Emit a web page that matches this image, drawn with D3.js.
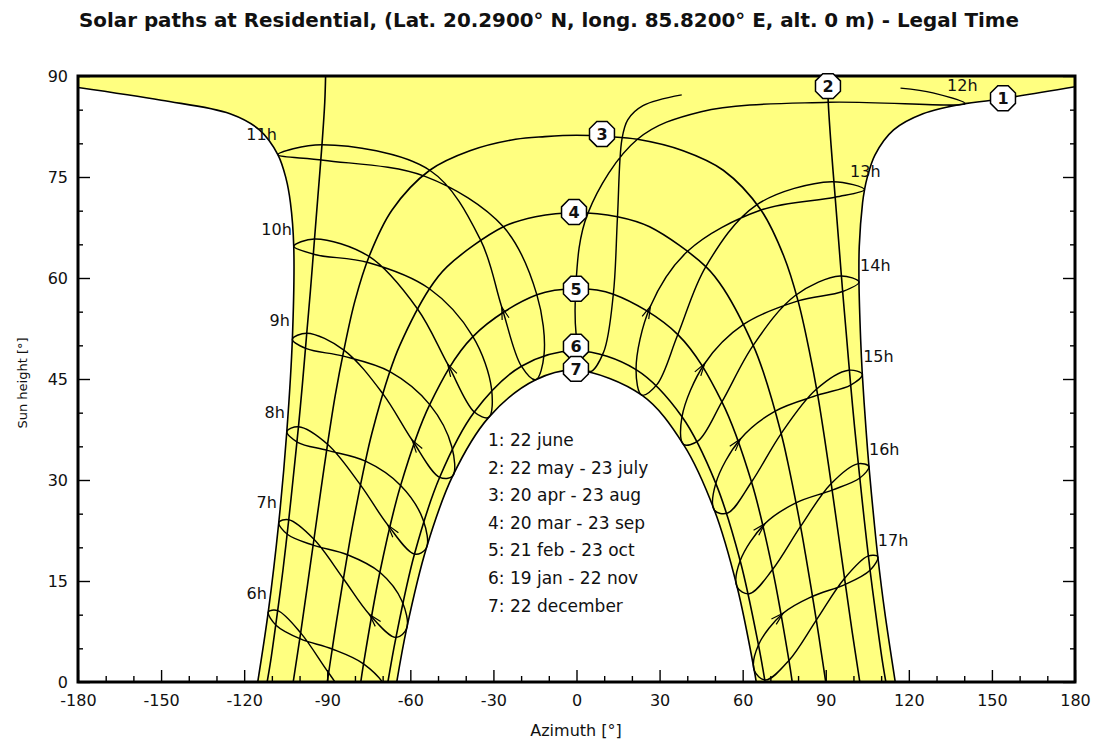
<!DOCTYPE html>
<html>
<head>
<meta charset="utf-8">
<script src="https://cdn.jsdelivr.net/npm/d3@7/dist/d3.min.js"></script>
<style>
body{margin:0;background:#fff;}
text{font-family:"DejaVu Sans",sans-serif;fill:#111;}
</style>
</head>
<body>
<svg width="1099" height="742"></svg>
<script>
//chart values: [azimuth, sun height]
const titleText = "Solar paths at Residential, (Lat. 20.2900° N, long. 85.8200° E, alt. 0 m) - Legal Time";
const legendLines = ["1: 22 june","2: 22 may - 23 july","3: 20 apr - 23 aug","4: 20 mar - 23 sep","5: 21 feb - 23 oct","6: 19 jan - 22 nov","7: 22 december"];
const azTicks = [-180,-150,-120,-90,-60,-30,0,30,60,90,120,150,180];
const heightTicks = [0,15,30,45,60,75,90];

//date paths (1 = june ... 7 = december)
const path1Morning = [[-115.1,0],[-111.3,10.4],[-107.5,23.7],[-104.6,37.2],[-102.6,50.9],[-102.1,64.7],[-103.3,71.2],[-104.9,74.8],[-107.8,78.3],[-114.5,82.0],[-125.1,84.4],[-149.9,86.4],[-180,88.3]];
const path1Afternoon = [[180,88.4],[149.9,86.4],[140.3,85.9],[125.1,84.4],[114.5,82.0],[107.8,78.3],[104.9,74.8],[104.0,73.1],[103.3,71.2],[102.1,64.7],[102.0,59.4],[102.6,50.9],[103.2,45.7],[104.6,37.2],[105.6,32.0],[107.5,23.7],[108.8,18.6],[111.3,10.4],[115.1,0]];
const path2Morning = [[-111.7,0],[-110.4,3.2],[-107.9,10.6],[-106.0,16.6],[-103.9,24.1],[-102.3,30.3],[-100.4,37.9],[-99.0,44.1],[-97.4,51.8],[-96.1,58.0],[-94.6,65.8],[-93.4,72.0],[-91.9,79.8],[-90.9,86.1],[-90.6,90]];
const path2Afternoon = [[90.6,90],[90.9,86.1],[91.9,79.8],[93.4,72.0],[94.6,65.8],[96.1,58.0],[97.4,51.8],[99.0,44.1],[100.4,37.9],[102.3,30.3],[103.9,24.1],[106.0,16.6],[107.9,10.6],[110.4,3.2],[111.7,0]];
const path3 = [[-102.3,0],[-99.6,7.3],[-97.1,14.5],[-94.8,21.2],[-92.3,28.5],[-89.9,35.3],[-87.1,42.6],[-84.0,49.3],[-80.0,56.6],[-74.9,63.2],[-66.6,70.1],[-53.0,76.0],[-38.5,78.9],[-22.0,80.6],[-11.4,81.0],[0,81.2],[11.4,81.0],[22.0,80.6],[38.5,78.9],[53.0,76.0],[66.6,70.1],[74.9,63.2],[80.0,56.6],[84.0,49.3],[87.1,42.6],[89.9,35.3],[92.3,28.5],[94.8,21.2],[97.1,14.5],[99.6,7.3],[102.3,0]];
const path4 = [[-90,0],[-88.2,4.9],[-86.6,9.2],[-82.7,18.9],[-80.9,23.1],[-76.2,32.8],[-73.9,36.9],[-67.4,46.1],[-63.8,50.0],[-53.1,58.4],[-46.7,61.7],[-26.4,67.6],[-14.8,69.1],[0,69.7],[14.8,69.1],[26.4,67.6],[46.7,61.7],[53.1,58.4],[63.8,50.0],[67.4,46.1],[73.9,36.9],[76.2,32.8],[80.9,23.1],[82.7,18.9],[86.6,9.2],[88.2,4.9],[90,0]];
const path5 = [[-77.9,0],[-76.9,2.7],[-71.0,16.3],[-63.5,29.2],[-53.0,41.2],[-37.4,51.3],[-14.3,57.5],[0,58.4],[13.3,57.6],[36.6,51.6],[52.5,41.6],[63.2,29.7],[70.8,16.7],[76.7,3.2],[77.9,0]];
const path6 = [[-68.1,0],[-65.2,6.6],[-58.5,19.0],[-49.4,30.4],[-36.9,40.1],[-19.9,46.9],[0,49.2],[21.5,46.4],[38.1,39.4],[50.3,29.5],[59.1,18.0],[65.7,5.5],[68.1,0]];
const path7 = [[-64.9,0],[-61.3,8.0],[-54.2,19.9],[-44.7,30.6],[-31.7,39.3],[-14.7,44.9],[0,46.3],[23.6,42.6],[38.6,35.3],[49.8,25.5],[58.0,14.1],[64.2,1.7],[64.9,0]];

//hour lines, one point per date: 19 jan, 21 feb, 20 mar, 20 apr, 22 may, 22 jun, 23 jul, 23 aug, 23 sep, 23 oct, 22 nov, 22 dec
const hour6 = [[-70.5,-6.4],[-80.1,-3.8],[-89.4,1.3],[-99.6,7.3],[-107.9,10.6],[-111.3,10.4],[-108.4,8.4],[-99.7,6.4],[-88.2,4.9],[-76.9,2.7],[-68.7,-0.9],[-66.7,-4.7]];
const hour7 = [[-65.2,6.6],[-74.7,10.0],[-84.1,15.3],[-94.8,21.2],[-103.9,24.1],[-107.5,23.7],[-104.3,21.9],[-94.9,20.3],[-82.7,18.9],[-71.0,16.3],[-63.0,12.0],[-61.3,8.0]];
const hour8 = [[-58.5,19.0],[-68.1,23.3],[-77.9,29.2],[-89.9,35.3],[-100.4,37.9],[-104.6,37.2],[-100.7,35.6],[-90.0,34.4],[-76.2,32.8],[-63.5,29.2],[-55.4,24.1],[-54.2,19.9]];
const hour9 = [[-49.4,30.4],[-59.3,35.9],[-69.9,42.8],[-84.0,49.3],[-97.4,51.8],[-102.6,50.9],[-97.5,49.5],[-84.2,48.4],[-67.4,46.1],[-53.0,41.2],[-45.0,34.9],[-44.7,30.6]];
const hour10 = [[-36.9,40.1],[-46.5,47.2],[-57.4,55.4],[-74.9,63.2],[-94.6,65.8],[-102.1,64.7],[-94.6,63.5],[-75.3,62.3],[-53.1,58.4],[-37.4,51.3],[-30.7,43.6],[-31.7,39.3]];
const hour11 = [[-19.9,46.9],[-27.0,55.7],[-34.7,65.7],[-53.0,76.0],[-91.9,79.8],[-107.8,78.3],[-91.4,77.5],[-54.7,75.1],[-26.4,67.6],[-14.3,57.5],[-11.7,48.7],[-14.7,44.9]];
//12h line is broken near the zenith: august end first, then round the year to june
const hour12 = [[38,87.2],[24,85.6],[18.5,83.5],[16.4,80.6],[14.8,69.1],[13.3,57.6],[9.8,49.0],[4.9,46.1],[0.9,49.2],[-0.2,59.1],[4.1,69.6],[22.0,80.6],[45,84.7],[90.9,86.1],[140.3,85.9],[128.7,87.5],[117,88.2]];
const hour13 = [[21.5,46.4],[26.7,55.8],[40.2,64.0],[66.6,70.1],[93.4,72.0],[104.0,73.1],[92.2,74.3],[64.8,70.8],[46.7,61.7],[36.6,51.6],[29.1,44.2],[23.6,42.6]];
const hour14 = [[38.1,39.4],[46.3,47.3],[60.3,53.1],[80.0,56.6],[96.1,58.0],[102.0,59.4],[95.2,60.3],[79.0,57.4],[63.8,50.0],[52.5,41.6],[43.9,35.8],[38.6,35.3]];
const hour15 = [[50.3,29.5],[59.2,36.1],[71.6,40.2],[87.1,42.6],[99.0,44.1],[103.2,45.7],[98.2,46.3],[86.4,43.4],[73.9,36.9],[63.2,29.7],[54.6,25.1],[49.8,25.5]];
const hour16 = [[59.1,18.0],[68.0,23.5],[79.2,26.6],[92.3,28.5],[102.3,30.3],[105.6,32.0],[101.5,32.4],[91.8,29.4],[80.9,23.1],[70.8,16.7],[62.4,13.1],[58.0,14.1]];
const hour17 = [[65.7,5.5],[74.6,10.2],[85.1,12.7],[97.1,14.5],[106.0,16.6],[108.8,18.6],[105.2,18.7],[96.6,15.3],[86.6,9.2],[76.7,3.2],[68.3,0.3],[64.2,1.7]];

//hour labels: text and anchor point
const hourNames = ["6h","7h","8h","9h","10h","11h","12h","13h","14h","15h","16h","17h"];
const hourLabelPos = [[-111.8,12.3],[-108.2,25.8],[-105.3,39.2],[-103.5,52.9],[-102.8,66.4],[-108.2,80.5],[133.8,87.8],[98.8,75.0],[102.4,61.0],[103.5,47.5],[105.6,33.7],[108.8,20.2]];

//numbered date markers
const markerNames = ["1","2","3","4","5","6","7"];
const markerPos = [[154,86.7],[90.8,88.5],[9.2,81.4],[-0.9,69.8],[-0.2,58.4],[-0.2,49.8],[-0.2,46.5]];

(()=>{

let svg = d3.select("svg");

//plot frame
let left = 78, right = 1075, top = 76, bottom = 682;
let x = d3.scaleLinear().domain([-180,180]).range([left,right]);
let y = d3.scaleLinear().domain([0,90]).range([bottom,top]);

let line = d3.line().x(d => x(d[0])).y(d => y(d[1])).curve(d3.curveCatmullRom);
let loop = d3.line().x(d => x(d[0])).y(d => y(d[1])).curve(d3.curveCatmullRomClosed);
let cont = s => "L" + s.slice(1); //continue a path instead of moving

svg.append("defs").append("clipPath").attr("id","plotClip")
	.append("rect").attr("x",left).attr("y",top).attr("width",right-left).attr("height",bottom-top);

let plot = svg.append("g").attr("clip-path","url(#plotClip)");

//yellow zone between june and december paths
let zone = line(path1Morning)
	+ "L" + x(-180) + "," + y(90) + "L" + x(180) + "," + y(90)
	+ cont(line(path1Afternoon))
	+ cont(line(path7.slice().reverse())) + "Z";
plot.append("path").attr("d",zone).attr("fill","#ffff80").attr("stroke","none");

//date paths
let datePaths = [path1Morning,path1Afternoon,path2Morning,path2Afternoon,path3,path4,path5,path6,path7];
plot.selectAll(".datepath")
	.data(datePaths)
	.enter().append("path")
	.attr("class","datepath")
	.attr("d", d => line(d))
	.attr("fill","none")
	.attr("stroke","#000")
	.attr("stroke-width",1.6);

//hour lines
let hourLoops = [hour6,hour7,hour8,hour9,hour10,hour11,hour13,hour14,hour15,hour16,hour17];
plot.selectAll(".hourline")
	.data(hourLoops)
	.enter().append("path")
	.attr("class","hourline")
	.attr("d", d => loop(d))
	.attr("fill","none")
	.attr("stroke","#000")
	.attr("stroke-width",1.45);
plot.append("path").attr("d",line(hour12))
	.attr("fill","none").attr("stroke","#000").attr("stroke-width",1.45);

//direction arrows on the hour lines, at the february point, heading to march
let arrowLoops = [hour7,hour8,hour9,hour10,hour11,hour13,hour14,hour15,hour16,hour17];
plot.selectAll(".arrow")
	.data(arrowLoops)
	.enter().append("path")
	.attr("class","arrow")
	.attr("d", d => {
		let px = x(d[1][0]), py = y(d[1][1]);
		let a = Math.atan2(y(d[2][1]) - y(d[0][1]), x(d[2][0]) - x(d[0][0]));
		let len = 13, spread = 0.28;
		let p1 = [px - len*Math.cos(a - spread), py - len*Math.sin(a - spread)];
		let p2 = [px - len*Math.cos(a + spread), py - len*Math.sin(a + spread)];
		return "M" + p1 + "L" + px + "," + py + "L" + p2;
	})
	.attr("fill","none")
	.attr("stroke","#000")
	.attr("stroke-width",1.2);

//axes, ticks pointing inwards
let minorAz = d3.range(-170,180,10).filter(v => v % 30 != 0);
let minorH = d3.range(5,90,5).filter(v => v % 15 != 0);

svg.append("g").attr("transform","translate(0,"+bottom+")")
	.call(d3.axisBottom(x).tickValues(azTicks).tickSize(-12).tickPadding(13).tickFormat(d => String(d)));
svg.append("g").attr("transform","translate(0,"+bottom+")")
	.call(d3.axisBottom(x).tickValues(minorAz).tickSize(-6).tickFormat(""));
svg.append("g").attr("transform","translate("+left+",0)")
	.call(d3.axisLeft(y).tickValues(heightTicks).tickSize(-12).tickPadding(10).tickFormat(d => String(d)));
svg.append("g").attr("transform","translate("+left+",0)")
	.call(d3.axisLeft(y).tickValues(minorH).tickSize(-5).tickFormat(""));
svg.append("g").attr("transform","translate("+right+",0)")
	.call(d3.axisRight(y).tickValues(heightTicks).tickSize(-12).tickFormat(""));
svg.append("g").attr("transform","translate("+right+",0)")
	.call(d3.axisRight(y).tickValues(minorH).tickSize(-5).tickFormat(""));

svg.selectAll(".domain").remove();
svg.selectAll(".tick line").attr("stroke","#000").attr("stroke-width",1.4);
svg.selectAll(".tick text").attr("font-family","DejaVu Sans").attr("font-size",16).attr("fill","#1a1a30");

svg.append("rect")
	.attr("x",left).attr("y",top).attr("width",right-left).attr("height",bottom-top)
	.attr("fill","none").attr("stroke","#000").attr("stroke-width",3);

//titles
svg.append("text").attr("x",549).attr("y",27).attr("text-anchor","middle")
	.attr("font-family","Liberation Sans").attr("font-weight","bold").attr("font-size",19)
	.attr("textLength",940).attr("lengthAdjust","spacingAndGlyphs")
	.text(titleText);
svg.append("text").attr("x",576).attr("y",736).attr("text-anchor","middle")
	.attr("font-size",16).text("Azimuth [°]");
svg.append("text").attr("transform","translate(27,383) rotate(-90)").attr("text-anchor","middle")
	.attr("font-size",13).attr("fill","#333").text("Sun height [°]");

//hour labels: morning ones end at the anchor, afternoon ones start there
svg.selectAll(".hourlabel")
	.data(hourNames)
	.enter().append("text")
	.attr("class","hourlabel")
	.attr("x",(d,i) => x(hourLabelPos[i][0]))
	.attr("y",(d,i) => y(hourLabelPos[i][1]))
	.attr("text-anchor",(d,i) => hourLabelPos[i][0] < 0 ? "end" : "start")
	.attr("font-size",16)
	.attr("fill","#2a1430")
	.text(d => d);

//legend
svg.selectAll(".legend")
	.data(legendLines)
	.enter().append("text")
	.attr("class","legend")
	.attr("x",488)
	.attr("y",(d,i) => 446 + i*27.6)
	.attr("font-size",17)
	.text(d => d);

//octagon markers
let octagon = d3.range(8).map(i => {
	let a = Math.PI/8 + i*Math.PI/4;
	return [13.5*Math.cos(a), 13.5*Math.sin(a)];
});
let markers = svg.selectAll(".marker")
	.data(markerNames)
	.enter().append("g")
	.attr("class","marker")
	.attr("transform",(d,i) => "translate("+x(markerPos[i][0])+","+y(markerPos[i][1])+")");
markers.append("path")
	.attr("d", d3.line()(octagon) + "Z")
	.attr("fill","#fff").attr("stroke","#000").attr("stroke-width",1.5);
markers.append("text")
	.attr("text-anchor","middle").attr("dy","0.36em")
	.attr("font-size",16).attr("font-weight","bold")
	.text(d => d);

})();
</script>
</body>
</html>
